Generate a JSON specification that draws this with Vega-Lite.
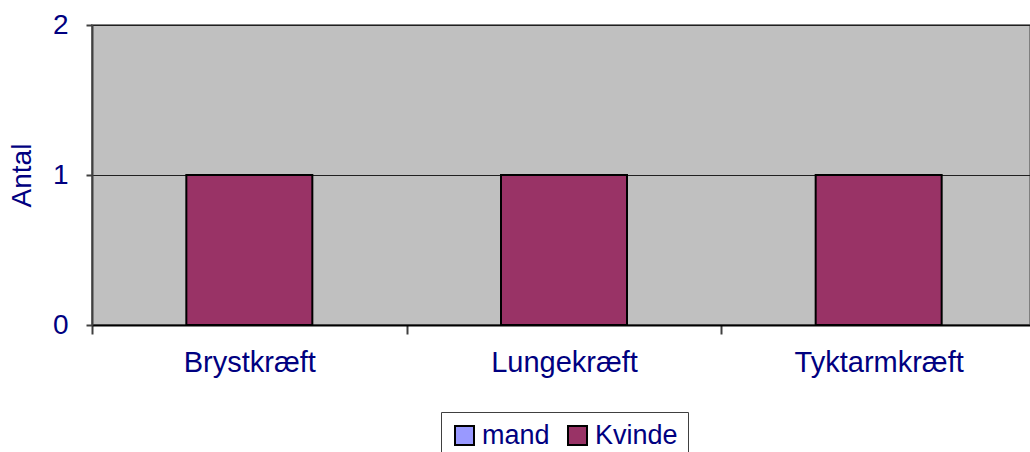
{
  "$schema": "https://vega.github.io/schema/vega-lite/v6.json",
  "width": 938,
  "height": 300,
  "autosize": {"type": "none"},
  "padding": {"left": 92, "top": 25, "right": 0, "bottom": 127},
  "background": "white",
  "config": {
    "font": "Liberation Sans",
    "view": {"fill": "#C0C0C0", "stroke": "#808080", "strokeWidth": 2}
  },
  "data": {
    "values": [
      {"kategori": "Brystkræft", "køn": "mand", "antal": 0},
      {"kategori": "Lungekræft", "køn": "mand", "antal": 0},
      {"kategori": "Tyktarmkræft", "køn": "mand", "antal": 0},
      {"kategori": "Brystkræft", "køn": "Kvinde", "antal": 1},
      {"kategori": "Lungekræft", "køn": "Kvinde", "antal": 1},
      {"kategori": "Tyktarmkræft", "køn": "Kvinde", "antal": 1}
    ]
  },
  "mark": {"type": "bar", "size": 126, "stroke": "#000000", "strokeWidth": 2},
  "encoding": {
    "x": {
      "field": "kategori",
      "type": "nominal",
      "sort": ["Brystkræft", "Lungekræft", "Tyktarmkræft"],
      "scale": {"paddingInner": 0, "paddingOuter": 0, "range": [0, 944]},
      "axis": {
        "title": null,
        "labelAngle": 0,
        "labelFontSize": 29,
        "labelColor": "#000080",
        "labelPadding": 14,
        "tickBand": "extent",
        "tickSize": 9,
        "tickColor": "#404040",
        "tickWidth": 2,
        "domainColor": "#000000",
        "domainWidth": 2,
        "grid": false
      }
    },
    "y": {
      "field": "antal",
      "type": "quantitative",
      "scale": {"domain": [0, 2], "nice": false},
      "axis": {
        "title": "Antal",
        "titleFontSize": 28,
        "titleFontWeight": "normal",
        "titleColor": "#000080",
        "titlePadding": 16,
        "tickCount": 2,
        "labelOverlap": false,
        "labelFontSize": 28,
        "labelColor": "#000080",
        "labelPadding": 18,
        "tickSize": 6,
        "tickColor": "#404040",
        "tickWidth": 2,
        "domainColor": "#404040",
        "domainWidth": 2,
        "grid": true,
        "gridColor": "#202020",
        "gridWidth": 1
      }
    },
    "color": {
      "field": "køn",
      "type": "nominal",
      "scale": {"domain": ["mand", "Kvinde"], "range": ["#9999FF", "#993366"]},
      "legend": {
        "title": null,
        "orient": "none",
        "legendX": 349,
        "legendY": 387,
        "direction": "horizontal",
        "strokeColor": "#404040",
        "fillColor": "white",
        "padding": 10,
        "symbolType": "square",
        "symbolSize": 361,
        "symbolStrokeColor": "#000000",
        "symbolStrokeWidth": 2,
        "labelFontSize": 27,
        "labelColor": "#000080",
        "labelOffset": 4,
        "columnPadding": 14
      }
    }
  }
}
